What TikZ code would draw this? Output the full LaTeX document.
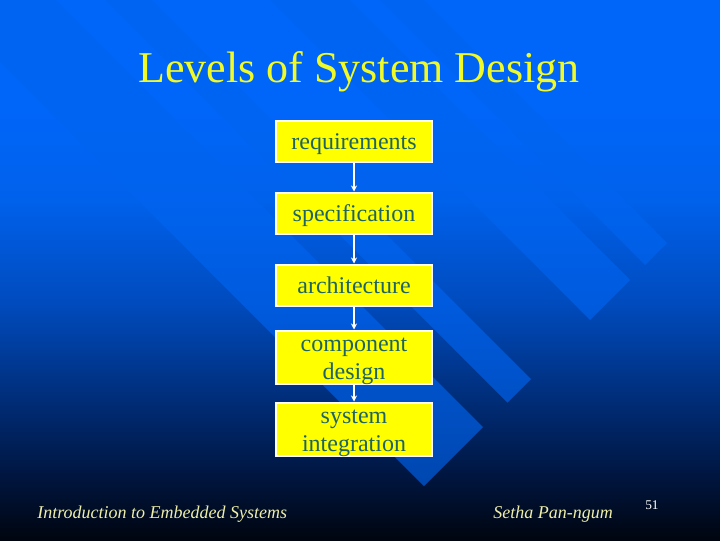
\documentclass[tikz,border=0pt]{standalone}
\usepackage{fontspec}
\setmainfont{Liberation Serif}
\usepackage{xcolor}
\usepackage{tikz}
\usetikzlibrary{arrows.meta}
\usetikzlibrary{positioning}

\definecolor{bgA}{RGB}{0,5,15}
\definecolor{bgB}{RGB}{0,20,60}
\definecolor{bgC}{RGB}{0,45,120}
\definecolor{bgD}{RGB}{0,75,190}
\definecolor{bgE}{RGB}{0,97,235}
\definecolor{bgF}{RGB}{0,102,250}
\definecolor{stripeblue}{RGB}{0,100,240}
\definecolor{boxyellow}{RGB}{255,255,0}
\definecolor{boxtext}{RGB}{30,100,100}
\definecolor{titleyellow}{RGB}{240,250,40}
\definecolor{footcream}{RGB}{238,238,170}
\pgfdeclareverticalshading{slidebg}{100bp}{color(0bp)=(bgA); color(25bp)=(bgA); color(30.5bp)=(bgB); color(38bp)=(bgC); color(47bp)=(bgD); color(56.5bp)=(bgE); color(65.5bp)=(bgF); color(75bp)=(bgF); color(100bp)=(bgF)}

\begin{document}
\begin{tikzpicture}[x=0.75pt,y=0.75pt,yscale=-1,xscale=1,
  levelbox/.style={draw=white,line width=1.5pt,fill=boxyellow,text=boxtext,minimum width=117pt,minimum height=30.75pt,inner ysep=0pt,inner xsep=2pt,align=center,text height=14.75pt,text depth=2pt,font=\fontsize{18}{21}\selectfont},
  twoline/.style={minimum height=39.75pt,text height=35pt,text depth=2pt},
  flowarrow/.style={draw=white,line width=1.8pt,-{Stealth[length=4.5pt,width=4.5pt]}},
  stripe/.style={fill=stripeblue,fill opacity=0.65}]
  \useasboundingbox (0,0) rectangle (720,540);

  %Shape: Background
  \shade [shading=slidebg] (0,0) rectangle (720,540);
  \begin{scope}
  \clip (0,0) rectangle (720,540);
  %Shape: Stripes
  \fill [stripe] (-62,0) -- (56,0) -- (483,427) -- (424,486) -- cycle ;
  \fill [stripe] (105,0) -- (152,0) -- (531,379) -- (507.5,402.5) -- cycle ;
  \fill [stripe] (270,0) -- (350,0) -- (630,280) -- (590,320) -- cycle ;
  \fill [stripe] (380,0) -- (424,0) -- (667,243) -- (645,265) -- cycle ;
  \end{scope}

  % Text Node
  \draw (359,82) node [anchor=base][inner sep=0pt][text=titleyellow][font=\fontsize{33}{36}\selectfont] (title) {Levels of System Design};

  %Shape: Boxes
  \node (req) at (354,141) [levelbox] {requirements};
  \node (spec) at (354,213) [levelbox] {specification};
  \node (arch) at (354,285) [levelbox] {architecture};
  \node (comp) at (354,357) [levelbox,twoline] {component\\design};
  \node (integ) at (354,429) [levelbox,twoline] {system\\integration};

  %Shape: Arrows
  \draw [flowarrow] (req) -- (spec);
  \draw [flowarrow] (spec) -- (arch);
  \draw [flowarrow] (arch) -- (comp);
  \draw [flowarrow] (comp) -- (integ);

  % Text Node
  \draw (37,518) node [anchor=base west][inner sep=0pt][text=footcream][font=\fontsize{13.5}{16}\selectfont\itshape] (course) {Introduction to Embedded Systems};
  % Text Node
  \draw (493,518) node [anchor=base west][inner sep=0pt][text=footcream][font=\fontsize{13.5}{16}\selectfont\itshape] (lecturer) {Setha Pan-ngum};
  % Text Node
  \draw (645,509) node [anchor=base west][inner sep=0pt][text=white][font=\fontsize{10}{12}\selectfont] (pagenum) {51};

\end{tikzpicture}
\end{document}
